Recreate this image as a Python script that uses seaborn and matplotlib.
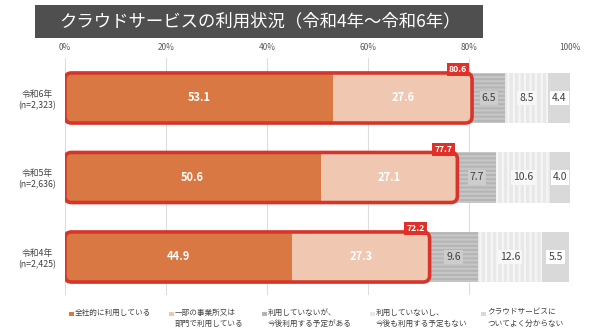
import matplotlib
matplotlib.use("Agg")
import matplotlib.pyplot as plt
import seaborn as sns
import numpy as np
import pandas as pd
from matplotlib.patches import FancyBboxPatch, Rectangle

# ---- data ----
years = ["令和6年\n(n=2,323)", "令和5年\n(n=2,636)", "令和4年\n(n=2,425)"]
company_wide = [53.1, 50.6, 44.9]
some_depts = [27.6, 27.1, 27.3]
plan_to_use = [6.5, 7.7, 9.6]
no_plan = [8.5, 10.6, 12.6]
unknown = [4.4, 4.0, 5.5]
totals = [80.6, 77.7, 72.2]
legend_labels = ["全社的に利用している", "一部の事業所又は\n部門で利用している",
                 "利用していないが、\n今後利用する予定がある",
                 "利用していないし、\n今後も利用する予定もない",
                 "クラウドサービスに\nついてよく分からない"]
title = "クラウドサービスの利用状況（令和4年～令和6年）"
xticks = [0, 20, 40, 60, 80, 100]

sns.set_theme(style="white")
plt.rcParams['font.family'] = ['Noto Sans CJK JP', 'DejaVu Sans']
plt.rcParams['hatch.linewidth'] = 1.6

fig = plt.figure(figsize=(6.02, 3.31), dpi=100)
ax = fig.add_axes([65/602, 1-295/331, (570-65)/602, (295-58)/331])

series = [company_wide, some_depts, plan_to_use, no_plan, unknown]
faces = ["#D97843", "#F0C7B1", "#B4B4B4", "#E8E8E8", "#D9D9D9"]
hatch_cols = [None, None, "#C6C6C6", "#F5F5F5", None]
hatches = [None, None, "----", "|||", None]

arr = np.array(series)
cum = np.cumsum(arr, axis=0)
left = cum - arr
barw = 0.63
df = pd.DataFrame({"year": years})

containers = {}
for k in range(4, -1, -1):
    df["v"] = cum[k]
    n0 = len(ax.patches)
    kw = dict(linewidth=0)
    if hatches[k]:
        kw.update(hatch=hatches[k], edgecolor=hatch_cols[k])
    sns.barplot(data=df, x="v", y="year", color=faces[k], width=barw, orient="h",
                ax=ax, saturation=1, zorder=2, **kw)
    containers[k] = ax.patches[n0:]

ax.set_xlim(0, 100)
ax.set_ylim(2.478, -0.503)
ax.set_xlabel("")
ax.set_ylabel("")
ax.xaxis.tick_top()
ax.set_xticks(xticks)
ax.set_xticklabels([f"{t}%" for t in xticks], fontsize=6, color="#595959")
ax.tick_params(axis="x", length=0, pad=4)
for lab in ax.get_yticklabels():
    lab.set_fontsize(6.3)
    lab.set_color("#404040")
    lab.set_horizontalalignment("center")
    lab.set_linespacing(1.3)
ax.tick_params(axis="y", length=0, pad=20)
for x in xticks:
    ax.axvline(x, color="#DDDDDD", lw=0.8, zorder=0)
for s in ax.spines.values():
    s.set_visible(False)

# rounded red outlines + clip coloured bars
xs = 5.05
ys = 79.5
for i in range(3):
    box = FancyBboxPatch((0, i - barw/2), totals[i], barw,
                         boxstyle="round,pad=0,rounding_size=1.3",
                         mutation_aspect=xs/ys, transform=ax.transData,
                         facecolor="none", edgecolor="#D8352A", lw=2.6, zorder=5)
    ax.add_patch(box)
    clipbox = FancyBboxPatch((0, i - barw/2), totals[i], barw,
                             boxstyle="round,pad=0,rounding_size=1.3",
                             mutation_aspect=xs/ys, transform=ax.transData,
                             facecolor="none", edgecolor="none")
    ax.add_patch(clipbox)
    for k in (0, 1):
        containers[k][i].set_clip_path(clipbox)
    ax.text(totals[i] - 1.0, i - barw/2 - 0.04, f"{totals[i]:.1f}", ha="right", va="center",
            fontsize=6.3, color="white", fontweight="bold", zorder=7,
            bbox=dict(boxstyle="square,pad=0.25", fc="#E0302A", ec="none"))

# value labels
for i in range(3):
    for k in range(5):
        v = series[k][i]
        cx = left[k][i] + v/2
        if k < 2:
            ax.text(cx, i, f"{v:.1f}", ha="center", va="center", fontsize=8,
                    color="white", fontweight="bold", zorder=6)
        else:
            bg = ["#CDCDCD", "#F7F7F7", "#FFFFFF"][k-2]
            ax.text(cx, i, f"{v:.1f}", ha="center", va="center", fontsize=7.5,
                    color="#404040", zorder=6,
                    bbox=dict(boxstyle="square,pad=0.2", fc=bg, ec="none"))

# title box
fig.patches.append(Rectangle((35/602, 1-38/331), (483-35)/602, 33/331,
                             transform=fig.transFigure, facecolor="#4F4F4F",
                             edgecolor="none", zorder=0))
fig.text(260/602, 1-21.5/331, title, ha="center", va="center", fontsize=12.5,
         color="white")

# legend (manual placement)
leg_cols = ["#D97843", "#F0C7B1", "#B4B4B4", "#E8E8E8", "#D9D9D9"]
leg_x = [69, 169, 262, 370, 481]
for c, lx, lab in zip(leg_cols, leg_x, legend_labels):
    fig.patches.append(Rectangle((lx/602, 1-316/331), 4.5/602, 4.5/331,
                                 transform=fig.transFigure, facecolor=c,
                                 edgecolor="none"))
    fig.text((lx + 6)/602, 1-308.5/331, lab, ha="left", va="top", fontsize=5.5,
             color="#404040", linespacing=1.6)

fig.savefig("out.png", dpi=100)
